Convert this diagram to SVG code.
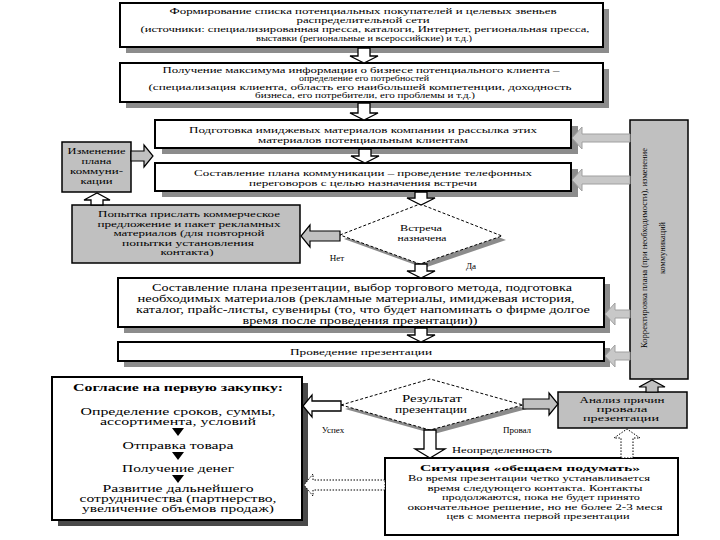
<svg xmlns="http://www.w3.org/2000/svg" width="720" height="540" viewBox="0 0 720 540">
<style>
.t{font-family:"Liberation Serif","Times New Roman","DejaVu Serif",serif;font-size:9px;fill:#000;text-anchor:middle}
.s8{font-size:8px}
.s85{font-size:8.5px}
.s10{font-size:10px}
.s11{font-size:11px}
.b{font-weight:bold}
.box{fill:#fff;stroke:#000;stroke-width:2}
.gbox{fill:#c0c0c0;stroke:#000;stroke-width:1.5}
.sh{fill:#8c8c8c}
.dsh{fill:#4a4a4a}
.dia{fill:#fff;stroke:#000;stroke-width:1;stroke-dasharray:3,2}
.arw{fill:#fff;stroke:#000;stroke-width:1.3}
.garw{fill:#c0c0c0;stroke:#000;stroke-width:1.2}
.rarw{fill:#c8c8c8;stroke:#a0a0a0;stroke-width:1}
.dot{fill:#fff;stroke:#000;stroke-width:1;stroke-dasharray:1.5,1.5}
.tri{fill:#000}
</style>
<rect width="720" height="540" fill="#fff"/>
<g id="n1">
<rect class="sh" x="126" y="9" width="483" height="44"/>
<rect class="box" x="120" y="3" width="483" height="44"/>
<text class="t s8" x="363" y="14" textLength="387" lengthAdjust="spacingAndGlyphs">Формирование списка потенциальных покупателей и целевых звеньев</text>
<text class="t s8" x="363" y="23" textLength="133" lengthAdjust="spacingAndGlyphs">распределительной сети</text>
<text class="t s8" x="365" y="32" textLength="449" lengthAdjust="spacingAndGlyphs">(источники: специализированная пресса, каталоги, Интернет, региональная пресса,</text>
<text class="t s8" x="364" y="41" textLength="216" lengthAdjust="spacingAndGlyphs">выставки (региональные и всероссийские) и т.д.)</text>
</g>
<g id="n2">
<rect class="sh" x="126" y="69" width="483" height="39"/>
<rect class="box" x="120" y="63" width="483" height="39"/>
<text class="t s8" x="361" y="72.5" textLength="397" lengthAdjust="spacingAndGlyphs">Получение максимума информации о бизнесе потенциального клиента –</text>
<text class="t s8" x="364" y="81" textLength="130" lengthAdjust="spacingAndGlyphs">определение его потребностей</text>
<text class="t s8" x="360" y="89.5" textLength="423" lengthAdjust="spacingAndGlyphs">(специализация клиента, область его наибольшей компетенции, доходность</text>
<text class="t s8" x="365" y="98" textLength="220" lengthAdjust="spacingAndGlyphs">бизнеса, его потребители, его проблемы и т.д.)</text>
</g>
<g id="n3">
<rect class="sh" x="162" y="126" width="416" height="28"/>
<rect class="box" x="155" y="120" width="416" height="28"/>
<text class="t" x="363" y="132.5" textLength="348" lengthAdjust="spacingAndGlyphs">Подготовка имиджевых материалов компании и рассылка этих</text>
<text class="t" x="363" y="143" textLength="210" lengthAdjust="spacingAndGlyphs">материалов потенциальным клиентам</text>
</g>
<g id="n4">
<rect class="sh" x="162" y="169" width="416" height="28"/>
<rect class="box" x="155" y="163" width="416" height="28"/>
<text class="t" x="363" y="175.5" textLength="338" lengthAdjust="spacingAndGlyphs">Составление плана коммуникации – проведение телефонных</text>
<text class="t" x="363" y="186" textLength="228" lengthAdjust="spacingAndGlyphs">переговоров с целью назначения встречи</text>
</g>
<g id="n-change">
<rect class="gbox" x="62" y="142" width="69" height="50"/>
<text class="t s85" x="96.5" y="154" textLength="58" lengthAdjust="spacingAndGlyphs">Изменение</text>
<text class="t s85" x="96.5" y="164" textLength="30" lengthAdjust="spacingAndGlyphs">плана</text>
<text class="t s85" x="96.5" y="174" textLength="53" lengthAdjust="spacingAndGlyphs">коммуни-</text>
<text class="t s85" x="96.5" y="184" textLength="32" lengthAdjust="spacingAndGlyphs">кации</text>
</g>
<g id="n-try">
<rect class="gbox" x="72" y="205" width="228" height="58"/>
<text class="t s8" x="189" y="217" textLength="182" lengthAdjust="spacingAndGlyphs">Попытка прислать коммерческое</text>
<text class="t s8" x="189" y="226.5" textLength="183" lengthAdjust="spacingAndGlyphs">предложение и пакет рекламных</text>
<text class="t s8" x="189" y="236" textLength="151" lengthAdjust="spacingAndGlyphs">материалов (для повторной</text>
<text class="t s8" x="188" y="245.5" textLength="132" lengthAdjust="spacingAndGlyphs">попытки установления</text>
<text class="t s8" x="187" y="255" textLength="53" lengthAdjust="spacingAndGlyphs">контакта)</text>
</g>
<g id="n-meet">
<polygon class="sh" points="344,239 424,208 506,240 424,268"/>
<polygon class="dia" points="340,235 420,204 502,236 420,264"/>
<text class="t" x="421" y="231" textLength="42" lengthAdjust="spacingAndGlyphs">Встреча</text>
<text class="t" x="422" y="241" textLength="49" lengthAdjust="spacingAndGlyphs">назначена</text>
</g>
<g id="n5">
<rect class="sh" x="124" y="284" width="486" height="49"/>
<rect class="box" x="118" y="278" width="486" height="49"/>
<text class="t s10" x="362" y="290.5" textLength="420" lengthAdjust="spacingAndGlyphs">Составление плана презентации, выбор торгового метода, подготовка</text>
<text class="t s10" x="356" y="301.5" textLength="437" lengthAdjust="spacingAndGlyphs">необходимых материалов (рекламные материалы, имиджевая история,</text>
<text class="t s10" x="363" y="312.5" textLength="454" lengthAdjust="spacingAndGlyphs">каталог, прайс-листы, сувениры (то, что будет напоминать о фирме долгое</text>
<text class="t s10" x="360" y="323.5" textLength="235" lengthAdjust="spacingAndGlyphs">время после проведения презентации))</text>
</g>
<g id="n6">
<rect class="sh" x="124" y="348" width="486" height="19"/>
<rect class="box" x="118" y="342" width="486" height="19"/>
<text class="t" x="361" y="354.5" textLength="142" lengthAdjust="spacingAndGlyphs">Проведение презентации</text>
</g>
<g id="n-correct">
<rect class="gbox" x="630" y="120" width="58" height="259"/>
<text class="t s85" transform="translate(647,248) rotate(-90)" textLength="200" lengthAdjust="spacingAndGlyphs">Корректировка плана (при необходимости), изменение</text>
<text class="t s85" transform="translate(665,248) rotate(-90)" textLength="52" lengthAdjust="spacingAndGlyphs">коммуникаций</text>
</g>
<g id="n-agree">
<rect class="dsh" x="58" y="383" width="250" height="143"/>
<rect class="box" x="52" y="377" width="250" height="143"/>
<text class="t b s10" x="178" y="391" textLength="210" lengthAdjust="spacingAndGlyphs">Согласие на первую закупку:</text>
<text class="t s10" x="178" y="415" textLength="195" lengthAdjust="spacingAndGlyphs">Определение сроков, суммы,</text>
<text class="t s10" x="178" y="425" textLength="156" lengthAdjust="spacingAndGlyphs">ассортимента, условий</text>
<text class="t s10" x="178" y="449" textLength="111" lengthAdjust="spacingAndGlyphs">Отправка товара</text>
<text class="t s10" x="178" y="472" textLength="112" lengthAdjust="spacingAndGlyphs">Получение денег</text>
<text class="t s10" x="178" y="492" textLength="151" lengthAdjust="spacingAndGlyphs">Развитие дальнейшего</text>
<text class="t s10" x="178" y="502" textLength="197" lengthAdjust="spacingAndGlyphs">сотрудничества (партнерство,</text>
<text class="t s10" x="178" y="512" textLength="192" lengthAdjust="spacingAndGlyphs">увеличение объемов продаж)</text>
</g>
<g id="n-result">
<polygon class="sh" points="345,409 434,383 527,409 434,434"/>
<polygon class="dia" points="341,405 430,379 523,405 430,430"/>
<text class="t s10" x="432" y="402" textLength="60" lengthAdjust="spacingAndGlyphs">Результат</text>
<text class="t s10" x="431" y="413" textLength="72" lengthAdjust="spacingAndGlyphs">презентации</text>
</g>
<g id="n-analysis">
<rect class="gbox" x="558" y="392" width="129" height="36"/>
<text class="t s8" x="622" y="403" textLength="85" lengthAdjust="spacingAndGlyphs">Анализ причин</text>
<text class="t s8" x="622" y="412" textLength="51" lengthAdjust="spacingAndGlyphs">провала</text>
<text class="t s8" x="621" y="421" textLength="76" lengthAdjust="spacingAndGlyphs">презентации</text>
</g>
<g id="n-think">
<rect class="box" x="385" y="458" width="293" height="77"/>
<text class="t b s85" x="530" y="471" textLength="220" lengthAdjust="spacingAndGlyphs">Ситуация «обещаем подумать»</text>
<text class="t s85" x="529" y="481" textLength="242" lengthAdjust="spacingAndGlyphs">Во время презентации четко устанавливается</text>
<text class="t s85" x="535" y="490.5" textLength="215" lengthAdjust="spacingAndGlyphs">время следующего контакта. Контакты</text>
<text class="t s85" x="541" y="500" textLength="198" lengthAdjust="spacingAndGlyphs">продолжаются, пока не будет принято</text>
<text class="t s85" x="535" y="509.5" textLength="255" lengthAdjust="spacingAndGlyphs">окончательное решение, но не более 2-3 меся</text>
<text class="t s85" x="538" y="519" textLength="183" lengthAdjust="spacingAndGlyphs">цев с момента первой презентации</text>
</g>
<g id="connectors">
<polygon class="arw" points="358,48 370,48 370,56 378,56 364,63 350,56 358,56"/>
<polygon class="arw" points="358,103 370,103 370,113 378,113 364,120 350,113 358,113"/>
<polygon class="arw" points="359,149 371,149 371,156 379,156 365,163 351,156 359,156"/>
<polygon class="arw" points="415,192 427,192 427,198 435,198 421,205 407,198 415,198"/>
<polygon class="arw" points="415,264 427,264 427,271 435,271 421,278 407,271 415,271"/>
<polygon class="arw" points="415,328 427,328 427,335 435,335 421,342 407,335 415,335"/>
<polygon class="arw" points="424,430 436,430 436,449 445,449 430,458 415,449 424,449"/>
<polygon class="arw" points="91,205 103,205 103,200 110,200 97,193 84,200 91,200"/>
<polygon class="garw" points="646,392 658,392 658,387 665,387 652,380 639,387 646,387"/>
<polygon class="dot" points="621,458 633,458 633,438 640,438 627,429 614,438 621,438"/>
<polygon class="garw" points="340,231 310,231 310,225 301,236 310,247 310,241 340,241"/>
<polygon class="arw" points="341,401 312,401 312,395 303,406 312,417 312,411 341,411"/>
<polygon class="dot" points="385,480 313,480 313,474 304,485 313,496 313,490 385,490"/>
<polygon class="garw" points="131,151 144,151 144,145 153,156 144,167 144,161 131,161"/>
<polygon class="garw" points="523,399 549,399 549,393 558,404 549,415 549,409 523,409"/>
<polygon class="rarw" points="630,134 582,134 582,127 572,138 582,149 582,142 630,142"/>
<polygon class="rarw" points="630,176 582,176 582,169 572,180 582,191 582,184 630,184"/>
<polygon class="rarw" points="630,310 615,310 615,303 605,314 615,325 615,318 630,318"/>
<polygon class="rarw" points="630,352 615,352 615,345 605,356 615,367 615,360 630,360"/>
<polygon class="tri" points="172,428 184,428 178,436"/>
<polygon class="tri" points="172,452 184,452 178,460"/>
<polygon class="tri" points="172,475 184,475 178,483"/>
<text class="t" x="337" y="261">Нет</text>
<text class="t" x="471" y="269">Да</text>
<text class="t" x="333" y="433">Успех</text>
<text class="t" x="517" y="433">Провал</text>
<text class="t" x="502" y="453" textLength="100" lengthAdjust="spacingAndGlyphs">Неопределенность</text>
</g>
</svg>
